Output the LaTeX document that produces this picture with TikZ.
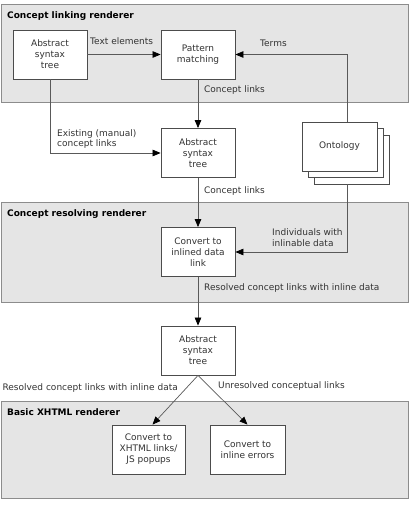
\documentclass[tikz,border=0pt]{standalone}
\usepackage{fontspec}
\setmainfont{DejaVu Sans}
\usetikzlibrary{arrows.meta,calc}
\begin{document}
\begin{tikzpicture}[x=1pt,y=-1pt,
  panel/.style={draw=black!45,fill=black!10,line width=1pt},
  ptitle/.style={anchor=west,inner sep=0pt,font=\fontsize{9}{11}\selectfont\bfseries},
  box/.style={draw=black!70,fill=white,line width=0.8pt,minimum width=74pt,minimum height=49pt,inner sep=1pt,align=center,font=\fontsize{9}{11}\selectfont,text=black!80},
  lbl/.style={inner sep=0pt,font=\fontsize{9}{10.5}\selectfont,text=black!80},
  conn/.style={draw=black!65,line width=0.7pt,-{Triangle[length=8pt,width=6.5pt,color=black]}},
  plain/.style={draw=black!65,line width=0.7pt}]
\useasboundingbox (0,0) rectangle (414,505);
% panels
\draw[panel] (1,5) rectangle (408,103);
\draw[panel] (1,202) rectangle (408,302);
\draw[panel] (1,401) rectangle (408,498);
\node[ptitle] (t1) at (7,16) {Concept linking renderer};
\node[ptitle] (t2) at (7,214) {Concept resolving renderer};
\node[ptitle] (t3) at (7,412) {Basic XHTML renderer};
% boxes
\node[box] (ast1) at (50,54.5) {Abstract\\syntax\\tree};
\node[box] (pm) at (198,54.5) {Pattern\\matching};
\node[box] (ast2) at (198,153) {Abstract\\syntax\\tree};
\node[box] (conv) at (198,252) {Convert to\\inlined data\\link};
\node[box] (ast3) at (198,350.5) {Abstract\\syntax\\tree};
\node[box,minimum width=73pt] (xh) at (148.5,449.5) {Convert to\\XHTML links/\\JS popups};
\node[box,minimum width=75pt] (err) at (247.5,449.5) {Convert to\\inline errors};
% ontology stack
\node[box,minimum width=75pt,minimum height=49pt] (ont3) at (352,159.5) {};
\node[box,minimum width=75pt,minimum height=49pt] (ont2) at (345.5,153) {};
\node[box,minimum width=75pt,minimum height=49pt] (ont) at (339.5,146.5) {Ontology};
% connectors
\draw[conn] (ast1) -- (pm);
\node[lbl,anchor=west] (lte) at (90,41) {Text elements};
\draw[conn] (ont.north -| 347,0) |- (pm.east);
\node[lbl,anchor=west] (lterms) at (260,43) {Terms};
\draw[conn] (pm) -- (ast2);
\node[lbl,anchor=west] (lcl1) at (204,90) {Concept links};
\draw[conn] (ast1.south) |- (ast2.west);
\node[lbl,anchor=west,align=left] (lex) at (57,139) {Existing (manual)\\concept links};
\draw[conn] (ast2) -- (conv);
\node[lbl,anchor=west] (lcl2) at (204,191) {Concept links};
\draw[conn] (ont3.south -| 347,0) |- (conv.east);
\node[lbl,anchor=west,align=left] (lind) at (272,237.5) {Individuals with\\inlinable data};
\draw[conn] (conv) -- (ast3);
\node[lbl,anchor=west] (lres) at (204,288) {Resolved concept links with inline data};
\draw[conn] (ast3.south) -- ([xshift=4pt]xh.north);
\draw[conn] (ast3.south) -- (err.north);
\node[lbl,anchor=east] (lres2) at (178,388) {Resolved concept links with inline data};
\node[lbl,anchor=west] (lun) at (218,386) {Unresolved conceptual links};
\end{tikzpicture}
\end{document}
